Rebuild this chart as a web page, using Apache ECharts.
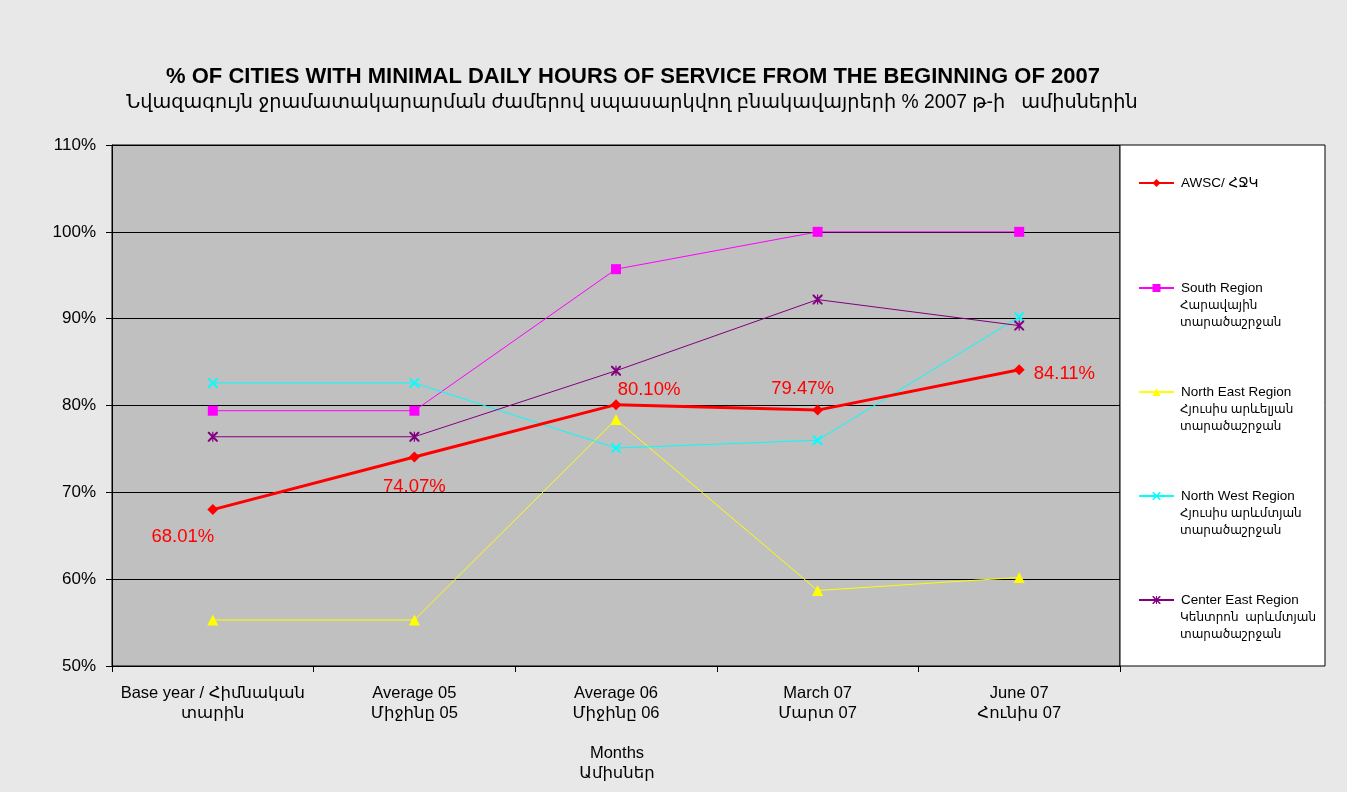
<!DOCTYPE html>
<html>
<head>
<meta charset="utf-8">
<script src="https://cdn.jsdelivr.net/npm/echarts@6/dist/echarts.min.js"></script>
<style>
  html, body { margin: 0; padding: 0; background: #e8e8e8; }
  #chart { width: 1347px; height: 792px; }
</style>
</head>
<body>
<div id="chart"></div>
<script>
const categories = ['Base year / Հիմնական\nտարին', 'Average 05\nՄիջինը 05', 'Average 06\nՄիջինը 06', 'March 07\nՄարտ 07', 'June 07\nՀունիս 07'];

const awsc = [68.01, 74.07, 80.10, 79.47, 84.11];
const southRegion = [79.4, 79.4, 95.7, 100, 100];
const northEastRegion = [55.3, 55.3, 78.4, 58.7, 60.2];
const northWestRegion = [82.6, 82.6, 75.1, 76.0, 90.2];
const centerEastRegion = [76.4, 76.4, 84.0, 92.2, 89.2];

const seriesNames = ['AWSC/ ՀՋԿ', 'South Region', 'North East Region', 'North West Region', 'Center East Region'];
const legendSubLines = ['', 'Հարավային\nտարածաշրջան', 'Հյուսիս արևելյան\nտարածաշրջան', 'Հյուսիս արևմտյան\nտարածաշրջան', 'Կենտրոն  արևմտյան\nտարածաշրջան'];

const FONT = 'Arial, "Liberation Sans", "DejaVu Sans", sans-serif';

// label placement for the AWSC percentages
const labelSpots = [
  { position: 'bottom', offset: [-30, 7] },
  { position: 'bottom', offset: [0, 10] },
  { position: 'top', offset: [33, 5] },
  { position: 'top', offset: [-15, -1] },
  { position: 'right', offset: [4, 4] }
];

const crossPath = 'path://M0,0 L1.4,0 L10,8.6 L10,10 L8.6,10 L0,1.4 Z M10,0 L10,1.4 L1.4,10 L0,10 L0,8.6 L8.6,0 Z';
const starPath = 'path://M0,0 L1.4,0 L10,8.6 L10,10 L8.6,10 L0,1.4 Z M10,0 L10,1.4 L1.4,10 L0,10 L0,8.6 L8.6,0 Z M4.4,0 L5.6,0 L5.6,10 L4.4,10 Z';

const legendCenters = [182, 287, 391, 495, 599];

const chartDom = document.getElementById('chart');
const myChart = echarts.init(chartDom);

const option = {
  backgroundColor: '#e8e8e8',
  animation: false,
  title: [
    {
      text: '% OF CITIES WITH MINIMAL DAILY HOURS OF SERVICE FROM THE BEGINNING OF 2007',
      left: 628, top: 61, textAlign: 'center',
      textStyle: { fontFamily: FONT, fontSize: 22, fontWeight: 'bold', color: '#000' }
    },
    {
      text: 'Նվազագույն ջրամատակարարման ժամերով սպասարկվող բնակավայրերի % 2007 թ-ի   ամիսներին',
      left: 627, top: 88, textAlign: 'center',
      textStyle: { fontFamily: FONT, fontSize: 19.3, fontWeight: 'normal', color: '#000' }
    }
  ],
  legend: seriesNames.map((name, i) => ({
    data: [name],
    left: 1133,
    top: legendCenters[i] - 12,
    itemWidth: 35,
    itemHeight: 10,
    itemGap: 0,
    textStyle: { fontFamily: FONT, fontSize: 13.5, color: '#000', lineHeight: 16, padding: [0, 0, 0, 2] },
    selectedMode: false
  })),
  graphic: [
    {
      type: 'rect', z: 0,
      shape: { x: 1120, y: 145, width: 205, height: 521 },
      style: { fill: '#fff', stroke: '#000', lineWidth: 1 }
    },
    ...legendSubLines.map((t, i) => ({
      type: 'text', z: 5,
      left: 1180, top: legendCenters[i] + 10,
      style: { text: t, font: '12px ' + FONT, fill: '#000', lineHeight: 17 }
    })),
    {
      type: 'text', z: 5,
      x: 617, y: 743,
      style: { text: 'Months\nԱմիսներ', font: '16.5px ' + FONT, fill: '#000', lineHeight: 20, align: 'center' }
    }
  ],
  grid: {
    left: 112, right: 227, top: 145, bottom: 126,
    show: true, backgroundColor: '#c0c0c0', borderColor: '#000', borderWidth: 1
  },
  xAxis: {
    type: 'category',
    data: categories,
    boundaryGap: true,
    axisLine: { lineStyle: { color: '#000', width: 1 } },
    axisTick: { show: true, length: 6, lineStyle: { color: '#000' } },
    axisLabel: { fontFamily: FONT, fontSize: 16.5, color: '#000', lineHeight: 20, margin: 17, interval: 0 }
  },
  yAxis: {
    type: 'value',
    min: 50, max: 110, interval: 10,
    axisLine: { show: true, lineStyle: { color: '#000', width: 1 } },
    axisTick: { show: true, length: 6, lineStyle: { color: '#000' } },
    axisLabel: { formatter: '{value}%', fontFamily: FONT, fontSize: 17, color: '#000', margin: 16 },
    splitLine: { lineStyle: { color: '#000', width: 1 } }
  },
  series: [
    {
      name: seriesNames[0], type: 'line', z: 10,
      data: awsc.map((v, i) => ({ value: v, label: labelSpots[i] })),
      symbol: 'diamond', symbolSize: 11,
      itemStyle: { color: '#ff0000' },
      lineStyle: { color: '#ff0000', width: 3 },
      label: {
        show: true, color: '#ff0000', fontFamily: FONT, fontSize: 18.5,
        formatter: (p) => p.value.toFixed(2) + '%'
      }
    },
    {
      name: seriesNames[1], type: 'line', data: southRegion,
      symbol: 'rect', symbolSize: 10,
      itemStyle: { color: '#ff00ff' }, lineStyle: { color: '#ff00ff', width: 1 }
    },
    {
      name: seriesNames[2], type: 'line', data: northEastRegion,
      symbol: 'triangle', symbolSize: 11,
      itemStyle: { color: '#ffff00' }, lineStyle: { color: '#ffff00', width: 1 }
    },
    {
      name: seriesNames[3], type: 'line', data: northWestRegion,
      symbol: crossPath, symbolSize: 10,
      itemStyle: { color: '#00ffff' }, lineStyle: { color: '#00ffff', width: 1 }
    },
    {
      name: seriesNames[4], type: 'line', data: centerEastRegion,
      symbol: starPath, symbolSize: 10,
      itemStyle: { color: '#800080' }, lineStyle: { color: '#800080', width: 1 }
    }
  ]
};

myChart.setOption(option);
</script>
</body>
</html>
